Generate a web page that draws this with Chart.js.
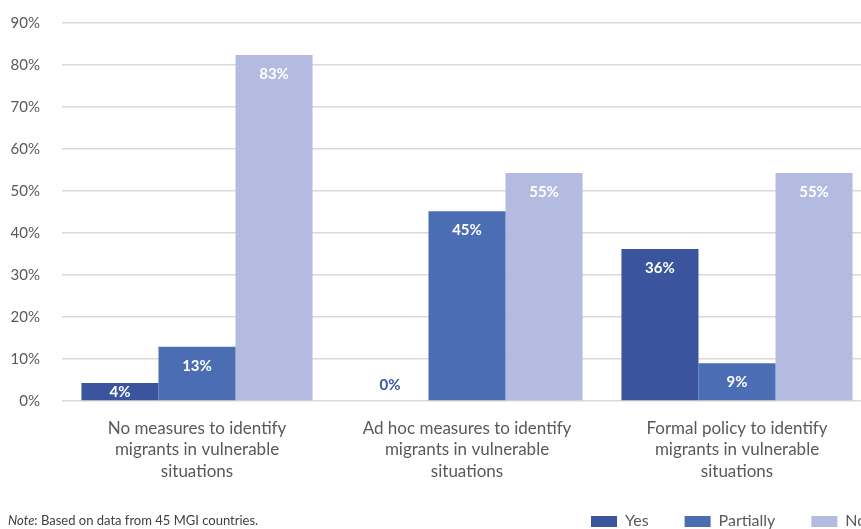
<!DOCTYPE html>
<html>
<head>
<meta charset="utf-8">
<script src="https://cdn.jsdelivr.net/npm/chart.js@4/dist/chart.umd.min.js"></script>
<style>
html,body{margin:0;padding:0;background:#fff;overflow:hidden;width:861px;height:529px;}
#wrap{position:absolute;left:0;top:0;width:872px;height:529px;}
</style>
</head>
<body>
<div id="wrap"><canvas id="c" width="872" height="529"></canvas></div>
<script>
const categories = [
  ["No measures to identify", "migrants in vulnerable", "situations"],
  ["Ad hoc measures to identify", "migrants in vulnerable", "situations"],
  ["Formal policy to identify", "migrants in vulnerable", "situations"]
];
const seriesNames = ["Yes", "Partially", "No"];
const yesValues = [4.3, 0, 36.2];
const partiallyValues = [12.9, 45.2, 9.0];
const noValues = [82.4, 54.3, 54.3];
const valueLabels = [
  ["4%", "0%", "36%"],
  ["13%", "45%", "9%"],
  ["83%", "55%", "55%"]
];
const yTicks = [0, 10, 20, 30, 40, 50, 60, 70, 80, 90];
const noteText = ": Based on data from 45 MGI countries.";

const colors = ["#3A559E", "#4B6DB3", "#B3BCE0"];
const FONT = "Lato, 'Open Sans', sans-serif";

const labelPlugin = {
  id: 'barLabels',
  afterDatasetsDraw(chart) {
    const ctx = chart.ctx;
    ctx.save();
    ctx.font = "bold 15px " + FONT;
    ctx.textAlign = 'center';
    ctx.textBaseline = 'middle';
    chart.data.datasets.forEach((ds, di) => {
      const meta = chart.getDatasetMeta(di);
      meta.data.forEach((bar, i) => {
        const v = ds.data[i];
        const top = bar.y, base = bar.base;
        let y, col = '#ffffff';
        if (v === 0) { y = base - 17; col = colors[di]; }
        else { y = Math.min(top + 18, (top + base) / 2); }
        ctx.fillStyle = col;
        ctx.fillText(valueLabels[di][i], bar.x, y + 1);
      });
    });
    ctx.restore();
  }
};

const footerPlugin = {
  id: 'footer',
  afterDraw(chart) {
    const ctx = chart.ctx;
    ctx.save();
    ctx.textBaseline = 'middle';
    ctx.fillStyle = '#404040';
    ctx.font = "italic 13px " + FONT;
    ctx.textAlign = 'left';
    ctx.fillText("Note", 8, 521);
    const w = ctx.measureText("Note").width;
    ctx.font = "13px " + FONT;
    ctx.fillText(noteText, 8 + w, 521);
    // legend
    let x = 591;
    ctx.font = "16px " + FONT;
    seriesNames.forEach((name, i) => {
      ctx.fillStyle = colors[i];
      ctx.fillRect(x, 516, 26, 11);
      ctx.fillStyle = '#595959';
      ctx.fillText(name, x + 34, 521);
      x += 34 + ctx.measureText(name).width + 36;
    });
    ctx.restore();
  }
};

new Chart(document.getElementById('c'), {
  type: 'bar',
  data: {
    labels: categories,
    datasets: [
      { label: seriesNames[0], data: yesValues, backgroundColor: colors[0] },
      { label: seriesNames[1], data: partiallyValues, backgroundColor: colors[1] },
      { label: seriesNames[2], data: noValues, backgroundColor: colors[2] }
    ]
  },
  options: {
    responsive: false,
    animation: false,
    devicePixelRatio: 1,
    layout: { padding: { top: 23, right: 0, bottom: 0, left: 0 } },
    datasets: { bar: { barPercentage: 1.0, categoryPercentage: 0.856 } },
    plugins: { legend: { display: false }, tooltip: { enabled: false } },
    scales: {
      x: {
        grid: { display: false, drawTicks: false },
        border: { display: false },
        ticks: { color: '#595959', font: { family: FONT, size: 17, lineHeight: 1.25 }, padding: 17, maxRotation: 0, autoSkip: false },
        afterFit(scale) { scale.height = 128; scale.paddingLeft = 0; scale.paddingRight = 0; }
      },
      y: {
        min: 0, max: 90,
        afterBuildTicks(scale) { scale.ticks = yTicks.map(v => ({ value: v })); },
        grid: { color: '#d9d9d9', lineWidth: 1.5, drawTicks: false },
        border: { display: false },
        ticks: { color: '#595959', font: { family: FONT, size: 15 }, padding: 22, callback: v => v + '%' },
        afterFit(scale) { scale.width = 62; scale.paddingTop = 0; scale.paddingBottom = 0; }
      }
    }
  },
  plugins: [labelPlugin, footerPlugin]
});
</script>
</body>
</html>
